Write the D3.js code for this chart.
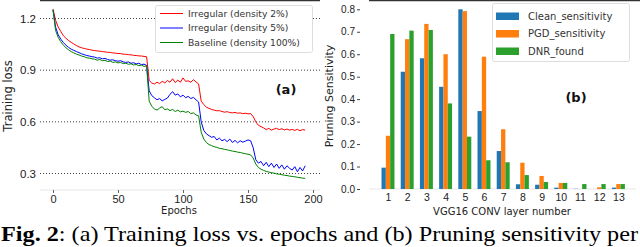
<!DOCTYPE html>
<html>
<head>
<meta charset="utf-8">
<script src="https://cdn.jsdelivr.net/npm/d3@7"></script>
<style>
  body { margin: 0; background: #fff; }
  svg { display: block; font-family: "DejaVu Sans", sans-serif; }
</style>
</head>
<body>
<div id="plot"></div>
<script>
// ---- data for (a): training loss, sampled every 2 epochs ----
var epochs = [0,2,4,6,8,10,12,14,16,18,20,22,24,26,28,30,32,34,36,38,40,42,44,46,48,50,52,54,56,58,
  60,62,64,66,68,70,72,74,76,78,80,82,84,86,88,90,92,94,96,98,100,102,104,106,108,110,112,114,116,118,
  120,122,124,126,128,130,132,134,136,138,140,142,144,146,148,150,152,154,156,158,160,162,164,166,168,170,
  172,174,176,178,180,182,184,186,188,190,192,194];

var lossIrr2 = [1.255,1.19,1.15,1.125,1.10,1.085,1.072,1.062,1.052,1.043,1.035,1.03,1.026,1.022,1.02,1.016,1.014,1.012,1.01,1.008,
  1.006,1.004,1.003,1.0,0.999,0.997,0.996,0.993,0.992,0.99,0.989,0.986,0.985,0.983,0.982,0.98,0.978,0.84,0.825,0.82,
  0.83,0.822,0.835,0.826,0.84,0.83,0.85,0.828,0.842,0.83,0.855,0.835,0.838,0.83,0.845,0.832,0.82,0.72,0.70,0.685,
  0.678,0.672,0.668,0.664,0.665,0.66,0.656,0.659,0.654,0.652,0.655,0.65,0.652,0.648,0.65,0.646,0.648,0.63,0.60,0.58,
  0.572,0.565,0.555,0.562,0.552,0.558,0.562,0.555,0.56,0.553,0.558,0.552,0.556,0.55,0.557,0.548,0.555,0.552];

var lossIrr5 = [1.25,1.15,1.105,1.08,1.06,1.045,1.032,1.022,1.015,1.008,1.002,0.995,0.99,0.985,0.982,0.978,0.976,0.97,0.972,0.966,
  0.968,0.962,0.958,0.96,0.955,0.952,0.955,0.948,0.945,0.948,0.94,0.943,0.936,0.94,0.932,0.935,0.928,0.78,0.752,0.74,
  0.728,0.735,0.722,0.73,0.738,0.76,0.775,0.755,0.762,0.745,0.755,0.74,0.748,0.735,0.742,0.728,0.715,0.60,0.55,0.53,
  0.52,0.51,0.515,0.495,0.505,0.49,0.498,0.485,0.50,0.48,0.492,0.478,0.49,0.482,0.488,0.495,0.49,0.45,0.38,0.36,
  0.37,0.345,0.365,0.34,0.36,0.335,0.355,0.33,0.35,0.325,0.345,0.33,0.32,0.34,0.31,0.335,0.315,0.345];

var lossBase = [1.25,1.13,1.09,1.065,1.045,1.03,1.018,1.008,1.0,0.993,0.988,0.982,0.978,0.972,0.97,0.966,0.964,0.958,0.962,0.955,
  0.957,0.95,0.953,0.945,0.948,0.942,0.945,0.938,0.94,0.934,0.937,0.93,0.933,0.926,0.93,0.922,0.925,0.72,0.69,0.675,
  0.668,0.68,0.688,0.67,0.675,0.665,0.672,0.66,0.668,0.658,0.662,0.655,0.66,0.648,0.652,0.64,0.635,0.54,0.50,0.48,
  0.468,0.462,0.455,0.452,0.446,0.444,0.44,0.437,0.434,0.43,0.428,0.424,0.422,0.418,0.415,0.412,0.408,0.39,0.355,0.335,
  0.325,0.318,0.312,0.308,0.305,0.302,0.298,0.296,0.293,0.29,0.288,0.285,0.283,0.281,0.278,0.276,0.273,0.272];

var lossNames = ["Irregular (density 2%)", "Irregular (density 5%)", "Baseline (density 100%)"];
var lossColors = ["#ff0000", "#0000ff", "#008000"];
var lossTicksX = [0, 50, 100, 150, 200];
var lossTicksY = [0.3, 0.6, 0.9, 1.2];

// ---- data for (b): pruning sensitivity per layer ----
var layers = [1,2,3,4,5,6,7,8,9,10,11,12,13];
var cleanSens = [0.095,0.522,0.582,0.455,0.80,0.347,0.169,0.021,0.019,0.006,0.001,0.0,0.006];
var pgdSens   = [0.237,0.667,0.735,0.60,0.792,0.589,0.266,0.117,0.058,0.027,0.0,0.0075,0.022];
var dnrFound  = [0.69,0.705,0.708,0.381,0.233,0.128,0.119,0.062,0.031,0.027,0.022,0.022,0.022];
var sensNames = ["Clean_sensitivity", "PGD_sensitivity", "DNR_found"];
var sensColors = ["#1f77b4", "#ff7f0e", "#2ca02c"];
var sensTicksY = [0.0,0.1,0.2,0.3,0.4,0.5,0.6,0.7,0.8];

var W = 640, H = 247;
var svg = d3.select("#plot").append("svg")
  .attr("width", W).attr("height", H);

// ================= (a) =================
var a = svg.append("g");
var ax = d3.scaleLinear().domain([0, 200]).range([53, 313]);
var ay = d3.scaleLinear().domain([0.3, 1.2]).range([173.5, 18.5]);
var aLeft = 40, aRight = 320, aTop = 0, aBottom = 190;

// dotted grid
a.selectAll(".grid").data(lossTicksY).enter().append("line")
  .attr("x1", aLeft).attr("x2", aRight)
  .attr("y1", d => ay(d)).attr("y2", d => ay(d))
  .attr("stroke", "#444").attr("stroke-width", 1)
  .attr("stroke-dasharray", "1,2");

// frame bits
a.append("line").attr("x1", aLeft).attr("x2", aRight).attr("y1", 0.5).attr("y2", 0.5)
  .attr("stroke", "#333").attr("stroke-width", 1.3);
a.append("line").attr("x1", aLeft).attr("x2", aRight).attr("y1", aBottom).attr("y2", aBottom)
  .attr("stroke", "#e6e6e6").attr("stroke-width", 1);

// lines
var series = [lossIrr2, lossIrr5, lossBase];
var line = d3.line().x((d, i) => ax(epochs[i])).y(d => ay(d));
series.forEach(function(s, k) {
  a.append("path").datum(s)
    .attr("fill", "none").attr("stroke", lossColors[k])
    .attr("stroke-width", 1).attr("stroke-linejoin", "round")
    .attr("d", line);
});

// axes
var axB = a.append("g").attr("transform", `translate(0,${aBottom})`)
  .call(d3.axisBottom(ax).tickValues(lossTicksX).tickSize(3).tickPadding(2).tickFormat(d3.format("d")));
axB.select(".domain").remove();
axB.selectAll("line").attr("stroke", "#666");
axB.selectAll("text").style("font-size", "11px").attr("fill", "#222");

var axL = a.append("g").attr("transform", `translate(${aLeft},0)`)
  .call(d3.axisLeft(ay).tickValues(lossTicksY).tickSize(0).tickPadding(4).tickFormat(d3.format(".1f")));
axL.select(".domain").remove();
axL.selectAll("text").style("font-size", "11.5px").attr("fill", "#222");

a.append("text").attr("x", 179).attr("y", 214).attr("text-anchor", "middle")
  .style("font-size", "10px").attr("fill", "#222").text("Epochs");
a.append("text").attr("transform", "translate(12,96) rotate(-90)")
  .attr("text-anchor", "middle").style("font-size", "11.5px").attr("fill", "#222")
  .text("Training loss");
a.append("text").attr("x", 286).attr("y", 93.5).attr("text-anchor", "middle")
  .style("font-size", "13px").style("font-weight", "bold").attr("fill", "#111").text("(a)");

// legend (a)
var la = a.append("g");
la.append("rect").attr("x", 155.5).attr("y", 5.5).attr("width", 157).attr("height", 47)
  .attr("rx", 2).attr("fill", "#fff").attr("stroke", "#ddd");
lossNames.forEach(function(n, i) {
  var yy = 13.5 + i * 14.5;
  la.append("line").attr("x1", 160).attr("x2", 183).attr("y1", yy).attr("y2", yy)
    .attr("stroke", lossColors[i]).attr("stroke-width", 1);
  la.append("text").attr("x", 188).attr("y", yy + 3.3)
    .style("font-size", "9.2px").attr("fill", "#333").text(n);
});

// ================= (b) =================
var b = svg.append("g");
var bx = d3.scaleLinear().domain([1, 13]).range([388, 618.4]);
var by = d3.scaleLinear().domain([0, 0.8]).range([189, 9.3]);
var bLeft = 369, bRight = 636, bBottom = 189;
var bw = 0.225;

b.append("line").attr("x1", bLeft).attr("x2", 640).attr("y1", 0.5).attr("y2", 0.5)
  .attr("stroke", "#333").attr("stroke-width", 1.3);
b.append("line").attr("x1", bLeft).attr("x2", bRight).attr("y1", bBottom).attr("y2", bBottom)
  .attr("stroke", "#e6e6e6").attr("stroke-width", 1);

var sens = [cleanSens, pgdSens, dnrFound];
sens.forEach(function(s, k) {
  b.selectAll(".bar" + k).data(s).enter().append("rect")
    .attr("x", (d, i) => bx(layers[i] + (k - 1) * bw - bw / 2))
    .attr("width", bx(1 + bw) - bx(1))
    .attr("y", d => by(d))
    .attr("height", d => by(0) - by(d))
    .attr("fill", sensColors[k]);
});

var bxB = b.append("g").attr("transform", `translate(0,${bBottom})`)
  .call(d3.axisBottom(bx).tickValues(layers).tickSize(0).tickPadding(4.5).tickFormat(d3.format("d")));
bxB.select(".domain").remove();
bxB.selectAll("text").style("font-size", "10.5px").attr("fill", "#222");

var byL = b.append("g").attr("transform", "translate(360,0)")
  .call(d3.axisLeft(by).tickValues(sensTicksY).tickSize(3).tickPadding(2).tickFormat(d3.format(".1f")));
byL.select(".domain").remove();
byL.selectAll("line").attr("stroke", "#444");
byL.selectAll("text").style("font-size", "10px").attr("fill", "#222");

b.append("text").attr("x", 502).attr("y", 214.5).attr("text-anchor", "middle")
  .style("font-size", "10px").attr("fill", "#222").text("VGG16 CONV layer number");
b.append("text").attr("transform", "translate(333,96) rotate(-90)")
  .attr("text-anchor", "middle").style("font-size", "11px").attr("fill", "#222")
  .text("Pruning Sensitivity");
b.append("text").attr("x", 576).attr("y", 101.5).attr("text-anchor", "middle")
  .style("font-size", "13px").style("font-weight", "bold").attr("fill", "#111").text("(b)");

// legend (b)
var lb = b.append("g");
lb.append("rect").attr("x", 492.5).attr("y", 3.5).attr("width", 137).attr("height", 58)
  .attr("rx", 2).attr("fill", "#fff").attr("stroke", "#ddd");
sensNames.forEach(function(n, i) {
  var yy = 16 + i * 17.5;
  lb.append("rect").attr("x", 496).attr("y", yy - 3.5).attr("width", 23).attr("height", 7.5)
    .attr("fill", sensColors[i]);
  lb.append("text").attr("x", 528).attr("y", yy + 3.6)
    .style("font-size", "10px").attr("fill", "#333").text(n);
});

// caption
var cap = svg.append("text").attr("x", 1).attr("y", 241)
  .attr("textLength", 637).attr("lengthAdjust", "spacingAndGlyphs")
  .style("font-family", "'Liberation Serif', 'Times New Roman', serif")
  .style("font-size", "21px").attr("fill", "#000");
cap.append("tspan").style("font-weight", "bold").text("Fig. 2");
cap.append("tspan").text(": (a) Training loss vs. epochs and (b) Pruning sensitivity per");
</script>
</body>
</html>
